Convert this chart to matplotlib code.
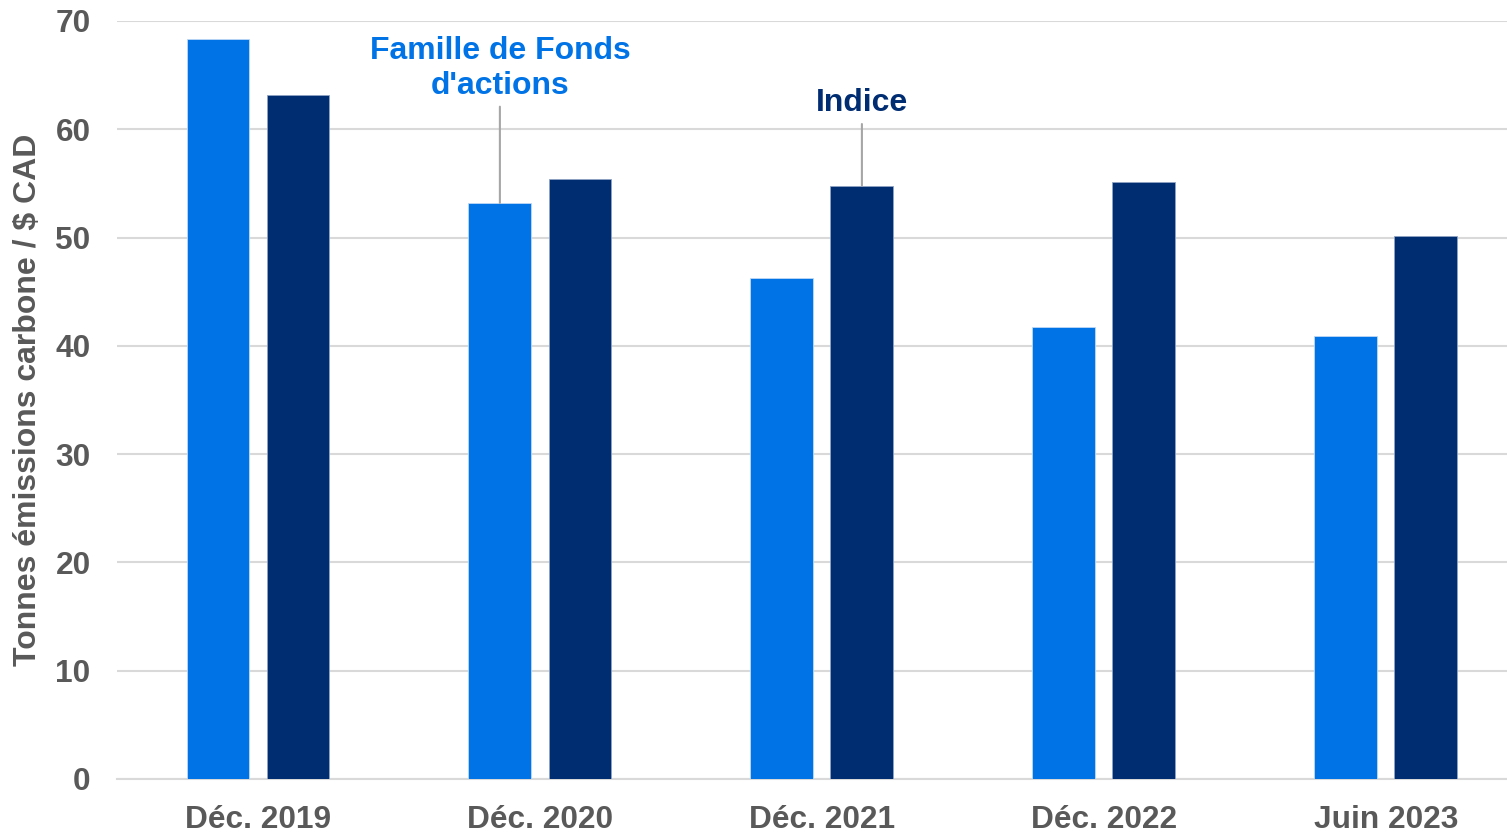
import matplotlib
matplotlib.use("Agg")
import matplotlib.pyplot as plt
import numpy as np

categories = ["Déc. 2019", "Déc. 2020", "Déc. 2021", "Déc. 2022", "Juin 2023"]
fonds = [68.3, 53.2, 46.3, 41.7, 40.9]
indice = [63.2, 55.4, 54.8, 55.1, 50.1]
yticks = [0, 10, 20, 30, 40, 50, 60, 70]

LIGHT = "#0073E6"
DARK = "#002D72"
GRAY = "#595959"

plt.rcParams["font.family"] = ["Liberation Sans", "DejaVu Sans"]
plt.rcParams["font.weight"] = "bold"

fig = plt.figure(figsize=(15.07, 8.33), dpi=100)
ax = fig.add_axes([117/1507, 1 - 779/833, (1507-117)/1507, (779-21)/833])

x = np.arange(len(categories))
w = 0.223
off = 0.142
ax.bar(x - off, fonds, width=w, color=LIGHT, edgecolor="#BFD9F5", linewidth=0.6, zorder=3)
ax.bar(x + off, indice, width=w, color=DARK, edgecolor="#8FA3C4", linewidth=0.6, zorder=3)

ax.set_xlim(-0.5, 4.43)
ax.set_ylim(0, 70)
ax.set_yticks(yticks)
ax.set_xticks(x)
ax.set_xticklabels(categories)
ax.yaxis.grid(True, color="#D9D9D9", linewidth=1.5, zorder=0)
ax.set_axisbelow(True)
for s in ["top", "right", "left"]:
    ax.spines[s].set_visible(False)
ax.spines["bottom"].set_color("#D9D9D9")
ax.spines["bottom"].set_linewidth(1.5)
ax.tick_params(axis="both", length=0, labelsize=22.8, labelcolor=GRAY)
ax.tick_params(axis="x", pad=19)
ax.tick_params(axis="y", pad=19)
for lab in ax.get_xticklabels() + ax.get_yticklabels():
    lab.set_fontweight("bold")

ax.set_ylabel("Tonnes émissions carbone / $ CAD", fontsize=23, color=GRAY, fontweight="bold")
ax.yaxis.set_label_coords(-74/1390, 0.5)

# annotations
ax.annotate("Famille de Fonds\nd'actions", xy=(1 - off, fonds[1]), xytext=(1 - off, 62.6),
            ha="center", va="bottom", fontsize=23, color=LIGHT, fontweight="bold",
            linespacing=1.22,
            arrowprops=dict(arrowstyle="-", color="#A6A6A6", lw=1.5, shrinkA=2, shrinkB=0))
ax.annotate("Indice", xy=(2 + off, indice[2]), xytext=(2 + off, 61.0),
            ha="center", va="bottom", fontsize=23, color=DARK, fontweight="bold",
            arrowprops=dict(arrowstyle="-", color="#A6A6A6", lw=1.5, shrinkA=2, shrinkB=0))

fig.savefig("out.png", dpi=100)
